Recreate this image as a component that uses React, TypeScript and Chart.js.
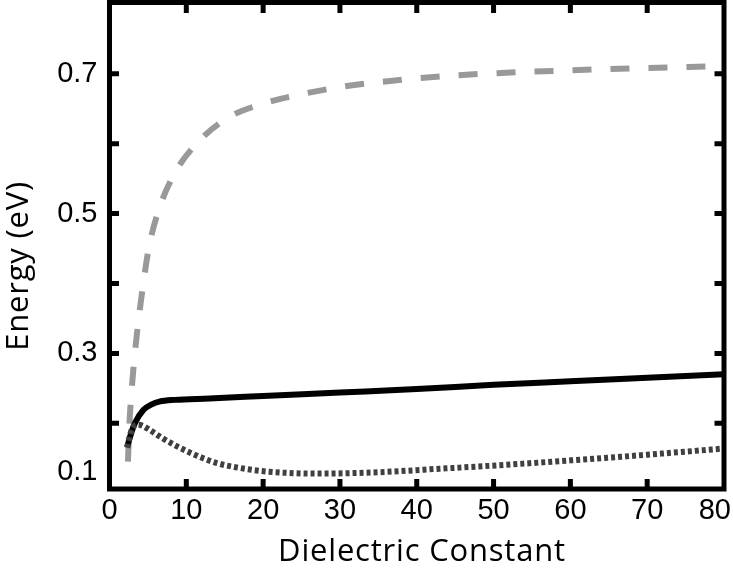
import { useEffect, useRef } from 'react';
import { Chart, registerables } from 'chart.js';

Chart.register(...registerables);

// Dashed grey curve
const dashedX = [2.4, 2.6, 2.9, 3.3, 3.8, 4.4, 5.1, 6.4, 8.5, 11.5, 15.4, 20.2, 25.1, 30, 35, 44, 60, 80];
const dashedY = [0.145, 0.2, 0.25, 0.3, 0.35, 0.4, 0.45, 0.505, 0.558, 0.602, 0.637, 0.658, 0.671, 0.681, 0.688, 0.697, 0.705, 0.711];

// Solid black curve
const solidX = [2.3, 2.8, 3.3, 4.4, 5.5, 6.5, 8.5, 13, 20, 30, 40, 50, 60, 70, 80];
const solidY = [0.166, 0.185, 0.2, 0.219, 0.227, 0.231, 0.2335, 0.2355, 0.239, 0.244, 0.249, 0.255, 0.26, 0.265, 0.27];

// Dotted dark curve
const dottedX = [2.3, 2.8, 3.5, 4.2, 5.3, 7, 8.8, 10.5, 12.2, 14, 17, 20.5, 27, 35, 43, 50.8, 60, 70, 80];
const dottedY = [0.165, 0.188, 0.198, 0.197, 0.19, 0.178, 0.167, 0.158, 0.15, 0.143, 0.136, 0.131, 0.128, 0.13, 0.135, 0.14, 0.147, 0.155, 0.164];

// Axis ticks
const xTickValues = [0, 10, 20, 30, 40, 50, 60, 70, 78.8];
const xTickLabels = ['0', '10', '20', '30', '40', '50', '60', '70', '80'];
const xTickMarks = [10, 20, 30, 40, 50, 60, 70];
const yTickValues = [0.131, 0.3, 0.5, 0.7];
const yTickLabels = ['0.1', '0.3', '0.5', '0.7'];
const yTickMarks = [0.2, 0.3, 0.4, 0.5, 0.6, 0.7];

const xTitle = 'Dielectric Constant';
const yTitle = 'Energy (eV)';

const zip = (xs: number[], ys: number[]) => xs.map((x, i) => ({ x, y: ys[i] }));

export default function App() {
  const ref = useRef<HTMLCanvasElement>(null);

  useEffect(() => {
    if (!ref.current) return;
    const framePlugin = {
      id: 'framePlugin',
      afterDraw(chart: any) {
        const { ctx, chartArea } = chart;
        const { left, right, top, bottom } = chartArea;
        const xs = chart.scales.x;
        const ys = chart.scales.y;
        ctx.save();
        ctx.strokeStyle = '#000';
        ctx.lineWidth = 5;
        ctx.lineCap = 'butt';
        ctx.strokeRect(left, top, right - left, bottom - top);
        ctx.beginPath();
        for (const v of xTickMarks) {
          const px = xs.getPixelForValue(v);
          ctx.moveTo(px, bottom);
          ctx.lineTo(px, bottom - 10);
          ctx.moveTo(px, top);
          ctx.lineTo(px, top + 10.5);
        }
        for (const v of yTickMarks) {
          const py = ys.getPixelForValue(v);
          ctx.moveTo(left, py);
          ctx.lineTo(left + 9.5, py);
          ctx.moveTo(right, py);
          ctx.lineTo(right - 9.5, py);
        }
        ctx.stroke();

        ctx.fillStyle = '#000';
        ctx.font = '31px "Open Sans"';
        try { (ctx as any).letterSpacing = '0.8px'; } catch (e) {}
        ctx.textAlign = 'center';
        ctx.textBaseline = 'alphabetic';
        ctx.fillText(xTitle, 422, 561);
        ctx.translate(28, 266);
        ctx.rotate(-Math.PI / 2);
        ctx.fillText(yTitle, 0, 0);
        ctx.restore();
      },
    };

    const tickFont = { family: '"Liberation Sans", Arial, sans-serif', size: 29 };

    const chart = new Chart(ref.current, {
      type: 'line',
      data: {
        datasets: [
          {
            label: 'dotted',
            data: zip(dottedX, dottedY),
            borderColor: '#404040',
            borderWidth: 6,
            borderDash: [4, 3],
            pointRadius: 0,
            fill: false,
            cubicInterpolationMode: 'monotone',
          },
          {
            label: 'solid',
            data: zip(solidX, solidY),
            borderColor: '#000000',
            borderWidth: 6,
            pointRadius: 0,
            fill: false,
            cubicInterpolationMode: 'monotone',
          },
          {
            label: 'dashed',
            data: zip(dashedX, dashedY),
            borderColor: '#999999',
            borderWidth: 6,
            borderDash: [19, 19],
            pointRadius: 0,
            fill: false,
            cubicInterpolationMode: 'monotone',
          },
        ],
      },
      options: {
        animation: false,
        responsive: false,
        events: [],
        layout: { padding: { left: 0, top: 2.5, right: 9, bottom: 0 } },
        plugins: { legend: { display: false }, tooltip: { enabled: false } },
        scales: {
          x: {
            type: 'linear',
            min: 0,
            max: 80,
            grid: { display: false, drawTicks: false },
            border: { display: false },
            afterBuildTicks: (scale: any) => {
              scale.ticks = xTickValues.map((v) => ({ value: v }));
            },
            afterFit: (scale: any) => {
              scale.height = 82;
              scale.paddingLeft = 0;
              scale.paddingRight = 0;
            },
            ticks: {
              autoSkip: false,
              maxRotation: 0,
              minRotation: 0,
              padding: 5,
              color: '#000',
              font: tickFont,
              callback: (_v: any, i: number) => xTickLabels[i],
            },
          },
          y: {
            type: 'linear',
            min: 0.106,
            max: 0.802,
            grid: { display: false, drawTicks: false },
            border: { display: false },
            afterBuildTicks: (scale: any) => {
              scale.ticks = yTickValues.map((v) => ({ value: v }));
            },
            afterFit: (scale: any) => {
              scale.width = 109.5;
              scale.paddingTop = 0;
              scale.paddingBottom = 0;
            },
            ticks: {
              autoSkip: false,
              padding: 12,
              color: '#000',
              font: tickFont,
              callback: (_v: any, i: number) => yTickLabels[i],
            },
          },
        },
      },
      plugins: [framePlugin],
    } as any);
    return () => chart.destroy();
  }, []);

  return (
    <div style={{ position: 'absolute', left: 0, top: 0, width: 733, height: 571 }}>
      <canvas ref={ref} width={733} height={571} style={{ display: 'block' }} />
    </div>
  );
}
